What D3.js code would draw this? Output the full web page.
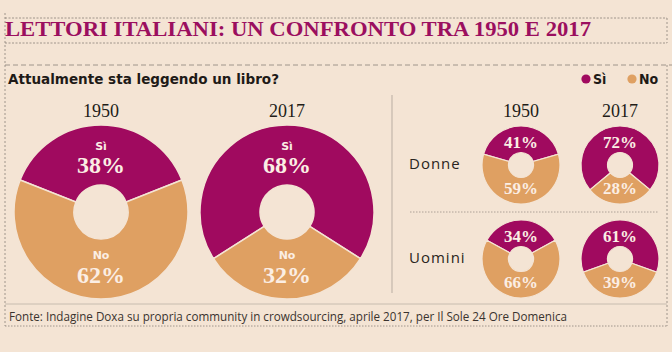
<!DOCTYPE html>
<html>
<head>
<meta charset="utf-8">
<script src="https://cdn.jsdelivr.net/npm/d3@7"></script>
<style>
  body { margin: 0; background: #f4e4d4; }
  svg { display: block; }
</style>
</head>
<body>
<div id="chart"></div>
<script>
// data
const years = ["1950", "2017"];
const groups = ["Donne", "Uomini"];
const answers = ["Sì", "No"];
const totalSi = [38, 68];
const totalNo = [62, 32];
const donneSi = [41, 72];
const donneNo = [59, 28];
const uominiSi = [34, 61];
const uominiNo = [66, 39];

const W = 672, H = 352;
const magenta = "#a00a5f", tan = "#dfa062", bg = "#f4e4d4";

const svg = d3.select("#chart").append("svg")
    .attr("width", W)
    .attr("height", H);

svg.append("rect").attr("width", W).attr("height", H).attr("fill", bg);

// frame lines
const frame = svg.append("g").attr("fill", "none").attr("stroke", "#8a8079").attr("stroke-width", 0.8);
frame.append("path").attr("d", "M5,18H667M5,43H667").attr("stroke-dasharray", "2,1.5");
frame.append("path").attr("d", "M5,13V326M667,18V43M667,65V326").attr("stroke-dasharray", "2,2");
frame.append("path").attr("d", "M5,65H672").attr("stroke-dasharray", "5,3");
frame.append("path").attr("d", "M5,326H667").attr("stroke-dasharray", "1.5,1.5");
frame.append("path").attr("d", "M5,304H667").attr("stroke", "#bdb1a6");

// title
svg.append("text")
    .attr("x", 5).attr("y", 36)
    .attr("textLength", 586).attr("lengthAdjust", "spacingAndGlyphs")
    .style("font-family", "'Liberation Serif', serif")
    .style("font-weight", "bold")
    .style("font-size", "20px")
    .attr("fill", "#9b0f5f")
    .text("LETTORI ITALIANI: UN CONFRONTO TRA 1950 E 2017");

svg.append("text")
    .attr("x", 8).attr("y", 84)
    .attr("textLength", 271).attr("lengthAdjust", "spacingAndGlyphs")
    .style("font-family", "'DejaVu Sans', sans-serif")
    .style("font-weight", "bold")
    .style("font-size", "14px")
    .attr("fill", "#1e1a17")
    .text("Attualmente sta leggendo un libro?");

// legend
const legendX = d3.scaleOrdinal().domain(answers).range([586, 632]);
const color = d3.scaleOrdinal().domain(answers).range([magenta, tan]);
const legend = svg.append("g").selectAll("g").data(answers).join("g")
    .attr("transform", d => `translate(${legendX(d)},79)`);
legend.append("circle").attr("r", 4.6).attr("fill", d => color(d));
legend.append("text")
    .attr("x", 7).attr("y", 5)
    .style("font-family", "'DejaVu Sans', sans-serif")
    .style("font-weight", "bold")
    .style("font-size", "14px")
    .style("font-stretch", "condensed")
    .attr("fill", "#1e1a17")
    .text(d => d);

// separators
svg.append("line").attr("x1", 392).attr("x2", 392).attr("y1", 95).attr("y2", 293)
    .attr("stroke", "#b9ada2").attr("stroke-width", 1);
svg.append("line").attr("x1", 410).attr("x2", 658).attr("y1", 212).attr("y2", 212)
    .attr("stroke", "#9c9189").attr("stroke-width", 0.8).attr("stroke-dasharray", "1.5,1.5");

function pieFor(si) {
    const a = si / 100 * Math.PI;
    return d3.pie().sort(null).startAngle(-a).endAngle(2 * Math.PI - a);
}

const serif = "'Liberation Serif', serif";

// big donuts
const bigX = d3.scalePoint().domain(years).range([101, 287]);
const bigY = 212;
const bigArc = d3.arc().innerRadius(27).outerRadius(87);

years.forEach((yr, i) => {
    const g = svg.append("g").attr("transform", `translate(${bigX(yr)},${bigY})`);
    const slices = pieFor(totalSi[i])([totalSi[i], totalNo[i]]);
    g.selectAll("path").data(slices).join("path")
        .attr("d", bigArc)
        .attr("fill", (d, j) => color(answers[j]))
        .attr("stroke", bg).attr("stroke-width", 1.5);

    svg.append("text")
        .attr("x", bigX(yr)).attr("y", 117)
        .attr("text-anchor", "middle")
        .style("font-family", serif).style("font-size", "18px")
        .attr("fill", "#221c18")
        .text(yr);

    const vals = [totalSi[i], totalNo[i]];
    const labY = [[-62, -39], [47, 71]];
    answers.forEach((ans, j) => {
        g.append("text")
            .attr("y", labY[j][0]).attr("text-anchor", "middle")
            .style("font-family", "'DejaVu Sans', sans-serif")
            .style("font-weight", "bold").style("font-size", "11px")
            .attr("fill", "#fbeee4")
            .text(ans);
        g.append("text")
            .attr("y", labY[j][1]).attr("text-anchor", "middle")
            .style("font-family", serif)
            .style("font-weight", "bold").style("font-size", "24px")
            .attr("fill", "#fbeee4")
            .text(vals[j] + "%");
    });
});

// small donuts
const smallX = d3.scalePoint().domain(years).range([521, 620]);
const rowY = d3.scalePoint().domain(groups).range([165, 259]);
const smallArc = d3.arc().innerRadius(12.5).outerRadius(39);
const rows = [[donneSi, donneNo], [uominiSi, uominiNo]];

years.forEach(yr => {
    svg.append("text")
        .attr("x", smallX(yr)).attr("y", 117)
        .attr("text-anchor", "middle")
        .style("font-family", serif).style("font-size", "18px")
        .attr("fill", "#221c18")
        .text(yr);
});

groups.forEach((grp, r) => {
    svg.append("text")
        .attr("x", 409).attr("y", rowY(grp) + 4)
        .style("font-family", "'Open Sans', sans-serif")
        .style("font-size", "15px")
        .style("letter-spacing", "1px")
        .attr("fill", "#2a2420")
        .text(grp);

    years.forEach((yr, i) => {
        const si = rows[r][0][i], no = rows[r][1][i];
        const g = svg.append("g").attr("transform", `translate(${smallX(yr)},${rowY(grp)})`);
        g.selectAll("path").data(pieFor(si)([si, no])).join("path")
            .attr("d", smallArc)
            .attr("fill", (d, j) => color(answers[j]))
            .attr("stroke", bg).attr("stroke-width", 1.2);
        [[si, -17], [no, 29]].forEach(([v, dy]) => {
            g.append("text")
                .attr("y", dy).attr("text-anchor", "middle")
                .style("font-family", serif)
                .style("font-weight", "bold").style("font-size", "17px")
                .attr("fill", "#fbeee4")
                .text(v + "%");
        });
    });
});

// source
svg.append("text")
    .attr("x", 9).attr("y", 321)
    .attr("textLength", 558).attr("lengthAdjust", "spacingAndGlyphs")
    .style("font-family", "'Open Sans', sans-serif")
    .style("font-size", "12px")
    .attr("fill", "#3a332e")
    .text("Fonte: Indagine Doxa su propria community in crowdsourcing, aprile 2017, per Il Sole 24 Ore Domenica");
</script>
</body>
</html>
